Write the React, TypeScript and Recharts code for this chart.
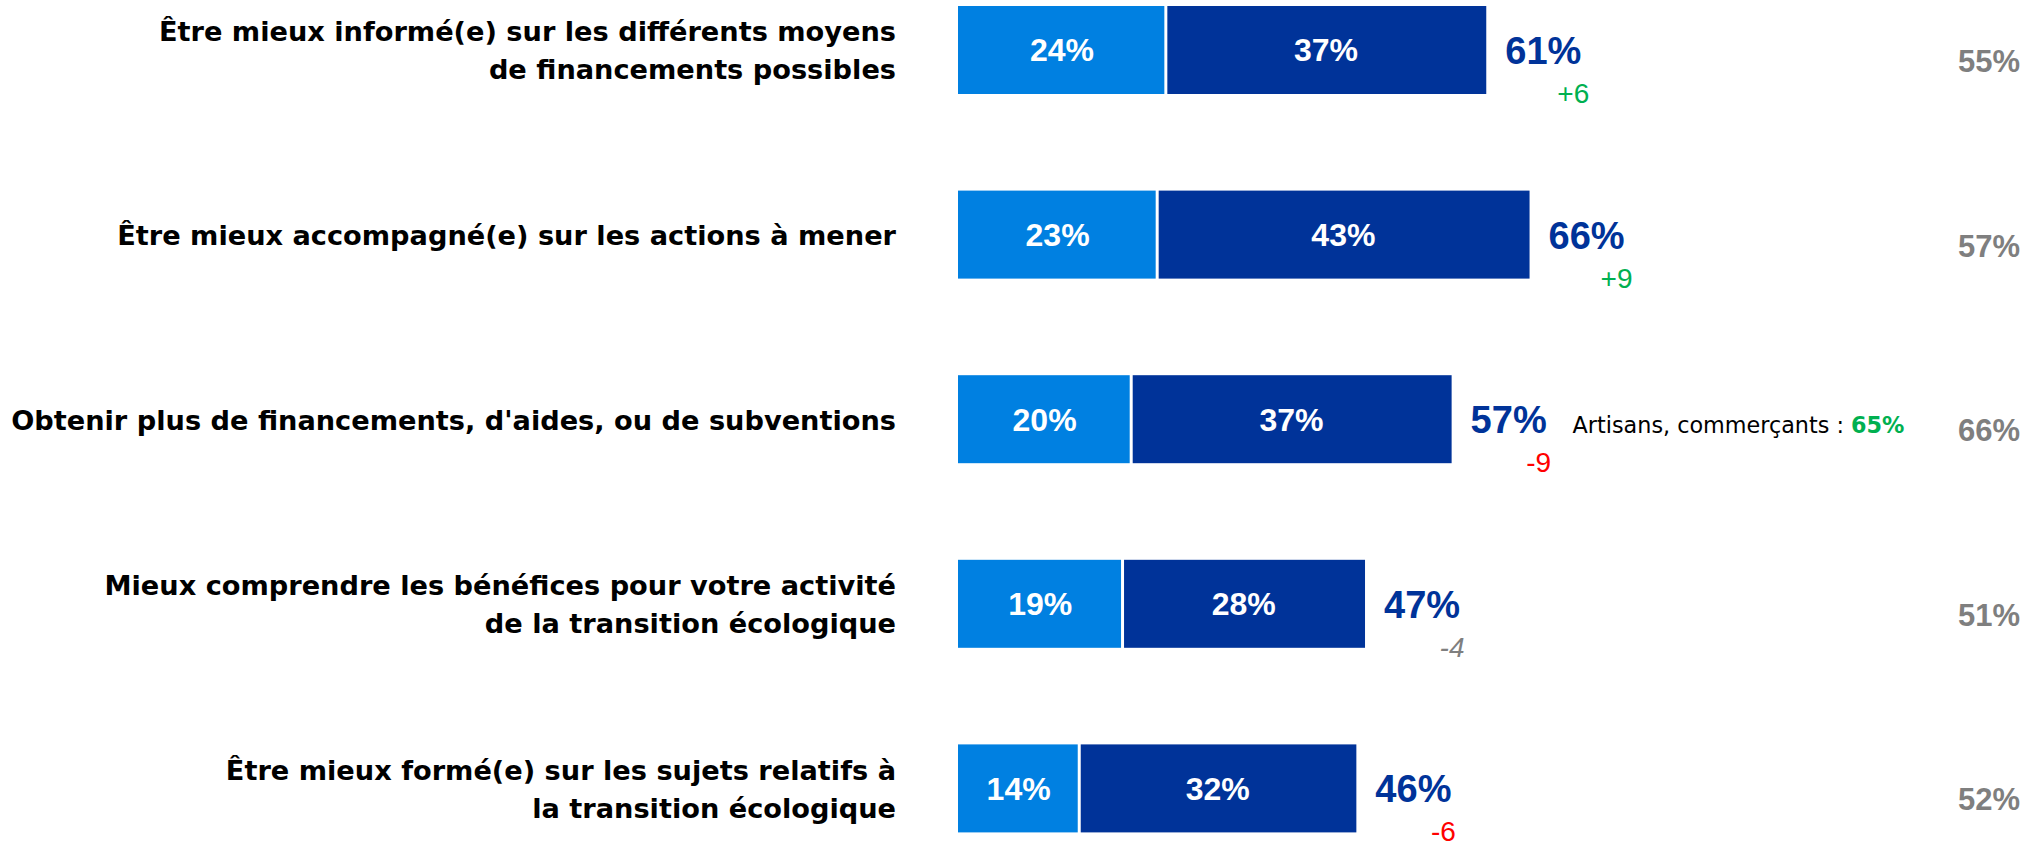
import { BarChart, Bar, XAxis, YAxis, LabelList } from "recharts"

const categories = [
  "Être mieux informé(e) sur les différents moyens\nde financements possibles",
  "Être mieux accompagné(e) sur les actions à mener",
  "Obtenir plus de financements, d'aides, ou de subventions",
  "Mieux comprendre les bénéfices pour votre activité\nde la transition écologique",
  "Être mieux formé(e) sur les sujets relatifs à\nla transition écologique",
]
const lightValues = [24, 23, 20, 19, 14]
const darkValues = [37, 43, 37, 28, 32]
const totals = [61, 66, 57, 47, 46]
const changes = ["+6", "+9", "-9", "-4", "-6"]
const significant = [true, true, true, false, true]
const previousWave = [55, 57, 66, 51, 52]
const notes = ["", "", "Artisans, commerçants : ", "", ""]
const noteValues = ["", "", "65%", "", ""]

const LIGHT = "#0080E1"
const DARK = "#003399"
const GREEN = "#00B050"
const RED = "#FF0000"
const GREY = "#7F7F7F"
const NUM_FONT = "'Liberation Sans', Arial, sans-serif"
const TEXT_FONT = "'DejaVu Sans', sans-serif"

const data = categories.map((name, i) => ({
  name,
  light: lightValues[i],
  dark: darkValues[i],
  total: totals[i],
}))

function CategoryTick(props: any) {
  const { x, y, payload } = props
  const lines = String(payload.value).split("\n")
  const first = lines.length === 1 ? 10 : -9
  return (
    <text x={x} y={y} textAnchor="end" fontFamily={TEXT_FONT} fontWeight={700} fontSize={27.2} fill="#000">
      {lines.map((l, i) => (
        <tspan key={i} x={x} y={y + first + i * 38}>
          {l}
        </tspan>
      ))}
    </text>
  )
}

// leaves a thin white gap between the two segments
function LightShape(props: any) {
  const { x, y, width, height } = props
  return <rect x={x} y={y} width={Math.max(width - 1.5, 0)} height={height} fill={LIGHT} />
}
function DarkShape(props: any) {
  const { x, y, width, height } = props
  return <rect x={x + 1.5} y={y} width={Math.max(width - 1.5, 0)} height={height} fill={DARK} />
}

function EndLabels(props: any) {
  const { x, y, width, height, index } = props
  const cy = y + height / 2
  const end = x + width
  const ch = changes[index]
  const chColor = !significant[index] ? GREY : ch.startsWith("+") ? GREEN : RED
  return (
    <g>
      <text x={end + 19} y={cy + 14} fontFamily={NUM_FONT} fontWeight={700} fontSize={38} fill={DARK}>
        {totals[index]}%
      </text>
      <text
        x={end + 87}
        y={cy + 53}
        textAnchor="middle"
        fontFamily={NUM_FONT}
        fontSize={28}
        fontStyle={significant[index] ? "normal" : "italic"}
        fill={chColor}
      >
        {ch}
      </text>
      {notes[index] && (
        <text x={end + 121} y={cy + 14} fontFamily={TEXT_FONT} fontSize={22.3} fill="#000">
          {notes[index]}
          <tspan fontWeight={700} fill={GREEN}>
            {noteValues[index]}
          </tspan>
        </text>
      )}
      <text x={2020} y={cy + 22} textAnchor="end" fontFamily={NUM_FONT} fontWeight={700} fontSize={31} fill={GREY}>
        {previousWave[index]}%
      </text>
    </g>
  )
}

export default function App() {
  return (
    <div style={{ position: "absolute", left: 0, top: 0, width: 2037, height: 849, overflow: "hidden", background: "#fff" }}>
      <div style={{ position: "absolute", left: 0, top: -42 }}>
        <BarChart
          width={2037}
          height={923}
          data={data}
          layout="vertical"
          margin={{ top: 0, right: 213, bottom: 0, left: 0 }}
          barCategoryGap={0}
        >
          <XAxis type="number" domain={[0, 100]} hide />
          <YAxis
            type="category"
            dataKey="name"
            width={958}
            axisLine={false}
            tickLine={false}
            tickSize={0}
            tickMargin={62}
            tick={<CategoryTick />}
          />
          <Bar dataKey="light" stackId="a" barSize={88} shape={<LightShape />} isAnimationActive={false}>
            <LabelList
              dataKey="light"
              position="center"
              formatter={(v: any) => `${v}%`}
              fill="#fff"
              fontFamily={NUM_FONT}
              fontWeight={700}
              fontSize={32}
            />
          </Bar>
          <Bar dataKey="dark" stackId="a" barSize={88} shape={<DarkShape />} isAnimationActive={false}>
            <LabelList
              dataKey="dark"
              position="center"
              formatter={(v: any) => `${v}%`}
              fill="#fff"
              fontFamily={NUM_FONT}
              fontWeight={700}
              fontSize={32}
            />
            <LabelList dataKey="total" content={<EndLabels />} />
          </Bar>
        </BarChart>
      </div>
    </div>
  )
}
